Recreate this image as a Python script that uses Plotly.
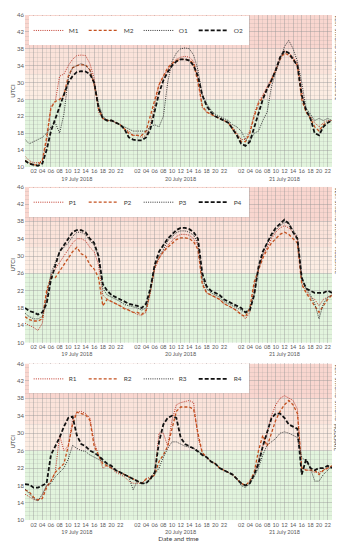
import plotly.graph_objects as go
import pandas as pd

# ---------------- data ----------------
times = pd.date_range("2018-07-19 00:00", periods=72, freq="h")
day_labels = ["19 July 2018", "20 July 2018", "21 July 2018"]
y_ticks = [10, 14, 18, 22, 26, 30, 34, 38, 42, 46]
zones = ["MODERATE", "STRONG", "VERY STRONG"]
zone_limits = [10, 26, 32, 38, 46]

# Panel 1
m1 = [12.5, 11.5, 11, 11, 11.5, 16, 24.5, 25.5, 31.5, 32, 34, 35.5, 36.4, 36.5, 36.4, 34.5, 31, 23, 21.5, 21, 21, 20.5, 20, 19,
      18.5, 17.5, 17.5, 17, 17.5, 20, 25, 29.5, 31.5, 33, 34.5, 35.5, 36, 36.2, 36, 35, 31, 24, 23, 22.5, 22, 21.5, 21, 20.5,
      19.5, 18, 16.5, 16.5, 18.5, 22.5, 25.5, 27, 29, 31, 33, 36, 37.5, 37, 36, 34.5, 28, 23, 22, 20.5, 19.5, 20.5, 21, 21]
m2 = [11.5, 11, 10.5, 10.5, 11.5, 17, 24, 25.5, 26, 27, 31.5, 33.5, 34, 34.2, 34.2, 33, 29.5, 24, 21.5, 21, 21, 20.5, 20, 19,
      18, 17.5, 17.5, 17.5, 18.5, 22, 26, 29.5, 31.5, 33.5, 34.5, 35.2, 35.5, 35.5, 35.3, 34.5, 30, 24.5, 23, 22.5, 22, 21.5, 21, 20.5,
      19, 17.5, 16, 16, 18, 22, 25, 26.5, 28.5, 30.5, 33, 35.5, 37, 36.5, 35.5, 34, 26, 23, 21.5, 19.5, 18.5, 20, 20.5, 21]
o1 = [16.5, 15.5, 16, 16.5, 17, 18, 19.5, 20.5, 18, 22.5, 31, 33.5, 34, 34.5, 34, 33, 30, 25, 22, 21, 21, 20.5, 20, 19.5,
      19, 18.5, 18.5, 18.5, 18.5, 19.5, 20, 19.5, 22, 30, 35, 37, 38, 38.2, 38, 36.5, 33, 27, 25, 23.5, 22.5, 22, 21.5, 21,
      20, 19.5, 18.5, 16.5, 16, 18, 18.5, 21, 23, 29, 32.5, 35.5, 38.5, 40, 38, 35, 30, 24, 22.5, 21, 21.5, 21, 21.5, 21]
o2 = [11.5, 10.8, 10.5, 10.3, 10.8, 14, 18.5, 21.5, 24, 27, 30, 31.5, 32.5, 32.7, 32.6, 32, 30, 24, 21.5, 21, 21, 20.5, 20, 19,
      17, 16.5, 16.3, 16.3, 17, 19, 23, 27.5, 30.5, 32.5, 34, 35, 35.5, 35.5, 35.2, 34, 31.5, 27, 24.5, 23, 22, 21.5, 21, 20.5,
      19, 17.5, 15.5, 15, 16, 19.5, 23, 26, 28.5, 30.5, 33, 36, 37.5, 37, 35.5, 34, 27, 23.5, 21.5, 18, 17.5, 19.5, 20.5, 21]

# Panel 2
p1 = [14.5, 14, 13.5, 12.8, 14.5, 21.5, 25.5, 27, 28.5, 30, 31.5, 33, 34, 34, 33.5, 32, 31, 28, 21, 20, 19.5, 19, 18.5, 18,
      17.5, 17, 16.5, 16.3, 17, 21.5, 27, 29.5, 31, 32.5, 33.5, 34.5, 35, 35, 34.8, 34, 32.5, 24, 21.5, 21, 20.5, 20, 19, 18.5,
      18, 17.5, 16.5, 15.5, 17, 23, 27, 30, 32, 34, 35.5, 36.5, 37, 36.5, 35.5, 34, 24, 22, 20.5, 20, 18.5, 20, 20.5, 21]
p2 = [16, 15.3, 15, 15, 15.5, 22, 25, 25, 26.5, 28, 29.5, 31, 32, 30.5, 30, 28, 27, 25, 18.5, 20, 19.5, 19, 18.5, 17.8,
      17.5, 17, 17, 16.5, 17.5, 22, 27.5, 29.5, 31, 32, 33, 33.8, 34.2, 34.2, 34, 33.3, 31.5, 23.5, 21.5, 21, 20.5, 20, 19, 18.5,
      18, 17.3, 16.5, 16, 18, 24, 27, 29.5, 31.5, 33, 34, 35, 35.5, 35, 34, 33, 23.5, 21.5, 20, 18.5, 17, 18.5, 20, 21]
p3 = [16.8, 16, 15.5, 15.5, 16, 20, 26, 28.5, 31, 32, 33, 34.5, 35.5, 35.5, 35, 33.5, 32.5, 30, 22.5, 21, 20.5, 20, 19.5, 18.8,
      18.5, 18.2, 18, 17.5, 18, 22, 27.5, 30, 31.5, 33.5, 34.5, 35.4, 35.8, 35.8, 35.5, 34.8, 33, 25, 22.5, 21.5, 21, 20.5, 19.5, 19,
      18.5, 18, 17.5, 17, 18, 21, 27, 30.5, 33, 34.5, 36, 37, 37.8, 37.5, 36, 34.5, 25, 22.5, 21, 19, 15.5, 19, 20.5, 21]
p4 = [18, 17.3, 17, 16.5, 17, 19, 24.5, 28, 31, 32.5, 34, 35.5, 36, 36, 35.5, 34, 33, 30, 23.5, 22, 21, 20.5, 20, 19.5,
      19, 18.7, 18.5, 18, 19, 22.5, 28, 31, 32.5, 34, 35, 36, 36.5, 36.5, 36.2, 35.5, 34, 26, 23, 22, 21.5, 21, 20, 19.5,
      19, 18.5, 18, 17, 17.5, 21, 27.5, 31, 33, 35, 36.5, 37.5, 38.4, 37.5, 35.5, 34, 25, 22.5, 22, 21.5, 21.5, 21.5, 22, 21.5]

# Panel 3
r1 = [16, 15.3, 14.8, 14.5, 15.5, 18, 19, 21, 29.5, 26, 27, 33, 34.8, 35, 34.5, 33.5, 28, 25, 22, 22.5, 22, 21, 20.5, 20,
      19, 18.5, 18.5, 18.5, 19.5, 20, 21, 30, 30, 27, 33, 36.5, 37, 37.2, 37.5, 37, 29, 25.5, 24.5, 23.5, 23, 22, 21.5, 21,
      20.5, 19.5, 18.5, 18, 19, 20.5, 24, 27, 30, 34, 36.5, 38, 38.6, 38, 37.5, 35.5, 22, 21.5, 21.5, 21, 21, 21.5, 22, 22.5]
r2 = [17, 16.5, 15.3, 14.7, 15, 17.5, 19, 21, 22, 23, 27, 32, 34.8, 34.5, 34.2, 33, 27, 25, 23, 22.5, 22, 21.5, 21, 20.5,
      20, 19.5, 19, 18.5, 19.5, 19.5, 20.5, 23.5, 25, 27, 31, 35, 36, 36, 36, 35.5, 30, 25.5, 24.5, 23.5, 23, 22, 21.5, 21,
      20.5, 19.5, 18.5, 18, 19, 21, 26, 29.5, 27, 30, 33, 35, 36.5, 37.5, 36.5, 34.5, 22, 21.5, 21.5, 21.5, 20.5, 21.5, 22, 22.5]
r3 = [17.2, 16, 15, 14.5, 16, 18, 18.5, 20, 21, 22, 24, 27.2, 26.5, 26, 25.8, 25, 24.5, 24, 23.5, 23, 22, 21.5, 21, 20.5,
      20, 17, 19, 18.5, 18.5, 19.5, 20.5, 22, 24.5, 26.5, 28, 28, 27.5, 27, 26.8, 26.5, 26, 25, 24.5, 23.5, 23, 22, 21.5, 21,
      20.5, 19.5, 18, 17.5, 18.5, 20, 22, 25, 27.3, 28, 28.8, 30, 30.3, 30, 29.5, 29, 24.5, 23.5, 22, 19, 19, 20.5, 21.5, 22.5]
r4 = [18.3, 18.2, 17.5, 17.5, 18, 18.5, 25, 27, 29, 31.5, 33.5, 33.8, 29.5, 27.5, 27, 26, 25.5, 24.8, 24, 23, 22.5, 21.5, 21, 20.5,
      20, 19.5, 19, 18.5, 18.5, 19.5, 21, 28, 32, 33.5, 34, 33.5, 29, 27.5, 27, 26.5, 25.8, 25, 24.5, 23.5, 23, 22, 21.5, 21,
      20.5, 19.5, 18.5, 18, 18.5, 20.5, 23, 27, 30.3, 33.4, 34.5, 34.5, 33.5, 32, 31.5, 31, 20.5, 24, 22, 21.5, 22, 22, 22.5, 22]

panels = [
    [("M1", m1), ("M2", m2), ("O1", o1), ("O2", o2)],
    [("P1", p1), ("P2", p2), ("P3", p3), ("P4", p4)],
    [("R1", r1), ("R2", r2), ("R3", r3), ("R4", r4)],
]

# ---------------- styles ----------------
styles = [
    dict(color="#C0392B", width=1.0, dash="1px,1.2px"),
    dict(color="#C4501E", width=1.3, dash="3px,2px"),
    dict(color="#333333", width=1.0, dash="1px,1.2px"),
    dict(color="#111111", width=1.8, dash="4px,2px"),
]
zone_colors = ["rgb(226,244,221)", "rgb(252,236,226)", "rgb(251,227,218)", "rgb(249,214,207)"]
grid_major = "rgba(150,150,150,0.30)"
grid_minor = "rgba(150,150,150,0.18)"
txt_col = "#595959"
FONT = "Lato, 'Open Sans', sans-serif"

# the page body keeps its default 8px margin, so the figure is 8px smaller
W, H = 336, 542
ML, MR = 17, 12
panel_px = [(3, 157), (177, 335), (356, 515)]  # top, bottom of each plot area (figure px)


def dom(top, bot):
    return [1 - bot / H, 1 - top / H]


# tick values / labels
tickvals, ticktext = [], []
for t in times:
    if t.hour % 2 == 0 and t.hour != 0:
        tickvals.append(t)
        lab = f"{t.hour:02d}"
        if t.hour == 12:
            lab += "<br>" + day_labels[(t.day - 19)]
        ticktext.append(lab)

zone_mid = [(zone_limits[k + 1] + zone_limits[k + 2]) / 2 for k in range(3)]

fig = go.Figure()
layout = dict(
    width=W, height=H,
    margin=dict(l=ML, r=MR, t=0, b=0),
    paper_bgcolor="white", plot_bgcolor="white",
    font=dict(family=FONT, size=6, color=txt_col),
    showlegend=True,
)
shapes, annotations = [], []

for i, series in enumerate(panels):
    n = i + 1
    xa = "x" if n == 1 else f"x{n}"
    ya = "y" if n == 1 else f"y{n}"
    lg = "legend" if n == 1 else f"legend{n}"
    for (name, vals), st in zip(series, styles):
        fig.add_trace(go.Scatter(
            x=times, y=vals, name=name, mode="lines",
            line=dict(color=st["color"], width=st["width"], dash=st["dash"]),
            xaxis=xa, yaxis=ya, legend=lg,
        ))
    top, bot = panel_px[i]
    layout["xaxis" if n == 1 else f"xaxis{n}"] = dict(
        domain=[0, 1], anchor=ya, range=[times[0], times[-1]],
        tickvals=tickvals, ticktext=ticktext, tickangle=0,
        showgrid=True, gridcolor=grid_major, gridwidth=0.6,
        minor=dict(dtick=3600000, showgrid=True, gridcolor=grid_minor, gridwidth=0.6),
        ticks="", zeroline=False, showline=False,
        tickfont=dict(size=5.5, color=txt_col),
        title=dict(text="Date and time" if n == 3 else "", font=dict(size=6.5, color="#404040"), standoff=2),
    )
    layout["yaxis" if n == 1 else f"yaxis{n}"] = dict(
        domain=dom(top, bot), anchor=xa, range=[10, 46],
        tickvals=y_ticks, showgrid=True, gridcolor=grid_major, gridwidth=0.6,
        minor=dict(dtick=1, showgrid=True, gridcolor=grid_minor, gridwidth=0.6),
        ticks="", zeroline=False, showline=False,
        tickfont=dict(size=6, color=txt_col),
        title=dict(text="UTCI", font=dict(size=6, color="#404040"), standoff=0),
    )
    for k in range(4):
        shapes.append(dict(type="rect", xref=f"{xa} domain", yref=ya, x0=0, x1=1,
                           y0=zone_limits[k], y1=zone_limits[k + 1],
                           fillcolor=zone_colors[k], line=dict(width=0), layer="below"))
    # heat-stress category names to the right of each panel
    for zname, zm in zip(zones, zone_mid):
        annotations.append(dict(xref="paper", yref=ya, x=1.016, xanchor="center",
                                y=zm, yanchor="middle", text=zname, textangle=90,
                                showarrow=False, borderpad=0,
                                font=dict(size=5, color="#404040")))
    layout[lg] = dict(
        orientation="h", x=0.012, xanchor="left", y=1 - (top + 1) / H, yanchor="top",
        bgcolor="white", font=dict(size=6.5, color="#404040"),
        itemwidth=30, entrywidth=10, tracegroupgap=0, itemclick=False,
    )

layout["shapes"] = shapes
layout["annotations"] = annotations
fig.update_layout(**layout)
fig.write_html("out.html")
